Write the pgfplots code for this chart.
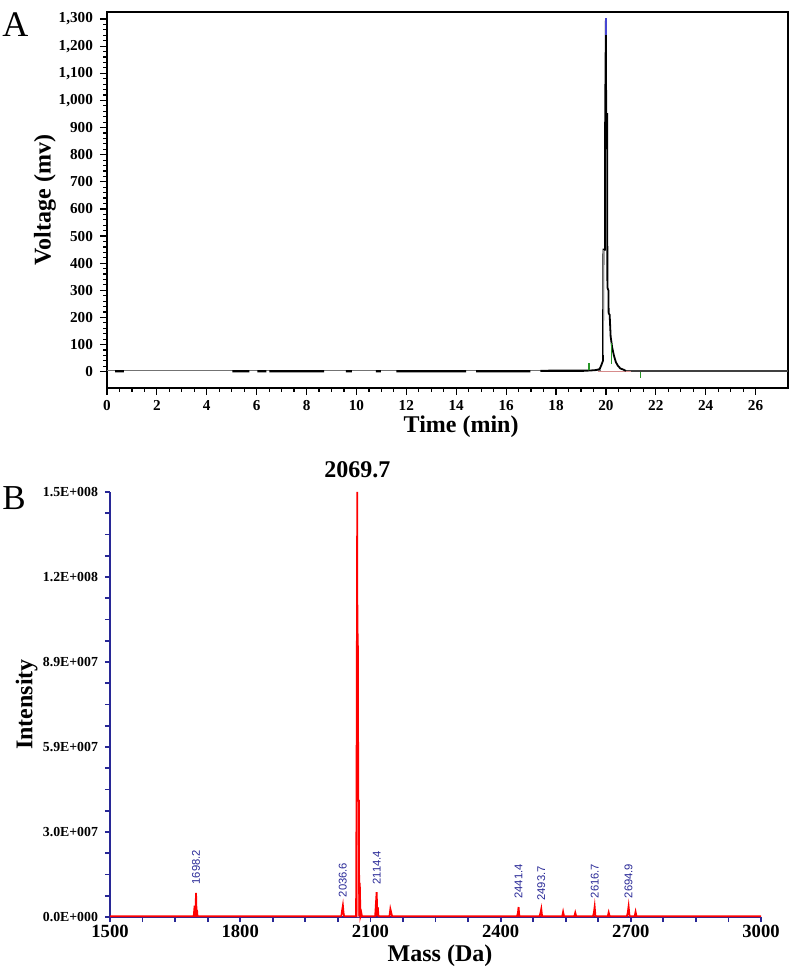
\documentclass[border=0pt]{standalone}
\usepackage{pgfplots}
\pgfplotsset{compat=1.18}
\usepackage{fontspec}
\setmainfont{Liberation Serif}
\newfontfamily\lblfont{Liberation Sans}
\definecolor{navy}{RGB}{40,40,150}
\definecolor{peakgreen}{RGB}{40,150,40}
\definecolor{tipblue}{RGB}{70,70,210}
\definecolor{basepink}{RGB}{215,140,140}

\begin{document}
\begin{tikzpicture}
\path[use as bounding box] (0,0) rectangle (400pt,486pt);

% panel A: chromatogram
\begin{axis}[
  at={(53.5pt,292pt)}, anchor=south west,
  scale only axis, width=340.5pt, height=188pt,
  xmin=0, xmax=27.3, ymin=-60, ymax=1326,
  xtick={0,2,...,26}, minor x tick num=3,
  ytick={0,100,...,1300}, minor y tick num=4,
  tick align=outside, xtick pos=bottom, ytick pos=left,
  major tick length=3.5pt, minor tick length=2pt,
  tick style={black, line width=0.6pt},
  axis line style={black, line width=1.1pt},
  /pgf/number format/assume math mode=true,
  /pgf/number format/1000 sep={,},
  ticklabel style={font=\bfseries\fontsize{7.6}{8}\selectfont},
  xticklabel style={yshift=1pt},
  xlabel={Time (min)}, ylabel={Voltage (mv)},
  label style={font=\bfseries\fontsize{12}{14}\selectfont},
  xlabel style={at={(axis description cs:0.52,-0.072)}, anchor=north, inner sep=0pt},
  ylabel style={at={(axis description cs:-0.091,0.5)}, anchor=center},
  unbounded coords=jump,
]
% baseline
\addplot[black!55, line width=0.7pt] coordinates {(0,5) (19.8,5)};
\addplot[black, line width=1.1pt] coordinates {
  (0.33,2) (0.68,2) (0.68,nan)
  (5.03,2) (5.71,2) (5.71,nan)
  (6.03,2) (6.39,2) (6.39,nan)
  (6.51,2) (8.70,2) (8.70,nan)
  (9.58,2) (9.82,2) (9.82,nan)
  (10.78,2) (10.98,2) (10.98,nan)
  (11.6,2) (14.4,2) (14.4,nan)
  (14.8,2) (16.97,2) (16.97,nan)
  (17.37,3) (19.3,4)
};
\addplot[black!75, line width=1pt] coordinates {(20.8,2) (27.3,2)};
\addplot[basepink, line width=0.6pt] coordinates {(19.7,1) (21.0,1)};
% main peak
\addplot[black, line width=0.9pt] coordinates {
  (19.3,4) (19.6,6) (19.75,10) (19.82,25) (19.88,40) (19.9,450)
  (19.96,450) (19.97,950) (20.0,1300) (20.01,950) (20.05,950)
  (20.06,310) (20.1,300) (20.11,215) (20.15,210) (20.19,130)
  (20.25,90) (20.32,60) (20.4,35) (20.48,22) (20.58,12) (20.72,7) (20.8,3)
};
\addplot[black!45, line width=0.6pt] coordinates {(19.91,60) (19.91,448)};
\addplot[tipblue, line width=0.6pt] coordinates {(20.0,1240) (20.0,1305)};
% integration marks
\addplot[peakgreen, line width=0.6pt] coordinates {(19.32,5) (19.32,33)};
\addplot[peakgreen, line width=0.6pt] coordinates {(20.24,30) (20.24,104)};
\addplot[peakgreen, line width=0.6pt] coordinates {(21.4,0) (21.4,-25)};
\end{axis}

% panel B: mass spectrum
\begin{axis}[
  at={(55pt,27.5pt)}, anchor=south west,
  scale only axis, width=325.5pt, height=212.5pt,
  xmin=1500, xmax=3000, ymin=0, ymax=1.5e8,
  axis x line*=bottom, axis y line*=left,
  xtick={1500,1800,...,3000}, minor x tick num=3,
  ytick={0,3e7,6e7,9e7,1.2e8,1.5e8},
  yticklabels={0.0E+000,3.0E+007,5.9E+007,8.9E+007,1.2E+008,1.5E+008},
  scaled y ticks=false,
  minor y tick num=3,
  tick align=outside,
  axis line style={navy, line width=0.9pt},
  tick style={navy, line width=0.9pt},
  major tick length=2.5pt, minor tick length=2.5pt,
  /pgf/number format/assume math mode=true,
  /pgf/number format/1000 sep={},
  xticklabel style={font=\bfseries\fontsize{9.3}{10}\selectfont, yshift=2pt},
  yticklabel style={font=\bfseries\fontsize{6.9}{8}\selectfont},
  xlabel={Mass (Da)}, ylabel={Intensity},
  label style={font=\bfseries\fontsize{12}{14}\selectfont},
  xlabel style={at={(axis description cs:0.507,-0.09)}, anchor=center},
  ylabel style={at={(axis description cs:-0.128,0.5)}, anchor=center},
  clip=false,
]
\addplot[fill=red!45, draw=none] coordinates {(2068,0) (2068,4.1e7) (2074,4.1e7) (2074,0)} \closedcycle;
\addplot[red, line width=0.9pt] coordinates {
  (1500,3e5)
  (1693,3e5) (1695,4e6) (1696,3e5) (1697,3e5) (1698.2,8.5e6) (1699.5,3e5) (1700.5,2.5e6) (1701.5,3e5)
  (2033,3e5) (2035,2.5e6) (2036.6,4e6) (2038,1.5e6) (2039.5,3e5)
  (2067,3e5) (2068,4.1e7) (2069.7,1.5e8) (2070.3,4.1e7) (2071,1.0e8) (2072,4.1e7) (2073.5,4.1e7)
  (2074.2,3e5) (2075.5,1.2e7) (2077,3e5) (2079,1.5e6) (2080.5,3e5)
  (2111,3e5) (2112.5,4e6) (2114.4,8.8e6) (2116,3e5) (2117,3.5e6) (2118.5,3e5)
  (2144,3e5) (2146,2.8e6) (2148,1.5e6) (2150,3e5)
  (2438,3e5) (2440,1.5e6) (2441.4,3.5e6) (2443,3e5)
  (2490,3e5) (2492,1.5e6) (2493.7,2.8e6) (2495.5,3e5)
  (2542,3e5) (2544,1.8e6) (2546,3e5)
  (2570,3e5) (2572,1.5e6) (2574,3e5)
  (2613,3e5) (2615,1.5e6) (2616.7,3.6e6) (2618.5,3e5)
  (2647,3e5) (2649,1.6e6) (2651,3e5)
  (2691,3e5) (2693,1.5e6) (2694.9,3.7e6) (2697,3e5)
  (2709,3e5) (2711,1.8e6) (2713,3e5)
  (3000,3e5)
};
\begin{scope}[every node/.style={rotate=90, anchor=west, text=navy, inner sep=0.5pt,
    font=\lblfont\fontsize{5.6}{6}\selectfont}]
\node at (axis cs:1698.2,1.1e7) {1698.2};
\node at (axis cs:2036.6,6.5e6) {2036.6};
\node at (axis cs:2114.4,1.1e7) {2114.4};
\node at (axis cs:2441.4,6e6) {2441.4};
\node at (axis cs:2493.7,5.3e6) {2493.7};
\node at (axis cs:2616.7,6.2e6) {2616.7};
\node at (axis cs:2694.9,6.2e6) {2694.9};
\end{scope}
\node[anchor=base, font=\bfseries\fontsize{12}{14}\selectfont] at (axis cs:2069.7,1.55e8) {2069.7};
\end{axis}

\node[anchor=base west, inner sep=0, font=\fontsize{18}{18}\selectfont] at (1pt,467.5pt) {A};
\node[anchor=base west, inner sep=0, font=\fontsize{17.5}{18}\selectfont] at (1pt,231pt) {B};
\end{tikzpicture}
\end{document}
